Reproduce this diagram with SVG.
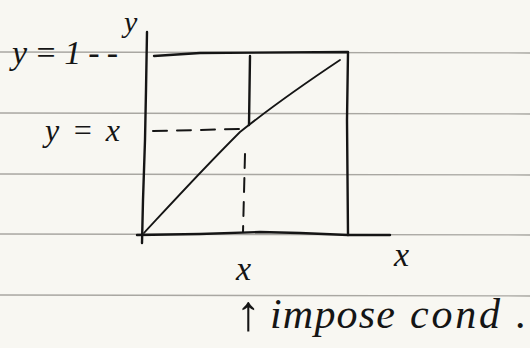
<svg xmlns="http://www.w3.org/2000/svg" width="530" height="348" viewBox="0 0 530 348">
<style>
.rule{stroke:#a9a7a2;stroke-width:1.3;fill:none}
.ink{stroke:#151515;stroke-width:2.4;fill:none;stroke-linecap:round;stroke-linejoin:round}
.thin{stroke:#151515;stroke-width:1.8;fill:none;stroke-linecap:round}
.dash{stroke:#151515;stroke-width:2;fill:none;stroke-dasharray:14 10;stroke-linecap:round}
.hand{font-family:"Liberation Serif",serif;font-style:italic;fill:#151515}
</style>
<rect width="530" height="348" fill="#f8f7f2"/>
<g id="ruling">
<line class="rule" x1="0" y1="52" x2="530" y2="53"/>
<line class="rule" x1="0" y1="113" x2="530" y2="114"/>
<line class="rule" x1="0" y1="174" x2="530" y2="175"/>
<line class="rule" x1="0" y1="234" x2="530" y2="235"/>
<line class="rule" x1="0" y1="295" x2="530" y2="296"/>
</g>
<g id="axes">
<path class="ink" d="M147 32 L146 90 L145 140 L143 200 L142 243"/>
<path class="ink" d="M137 235 L200 234 L260 232 L300 233 L348 235 L390 235"/>
</g>
<g id="square">
<path class="ink" d="M154 56 L200 53 L348 52 L347 120 L348 235"/>
<path class="ink" d="M250 56 L249 125"/>
</g>
<g id="connectors">
<path class="thin" d="M144 233 C170 205 200 172 240 132 C280 100 310 80 340 60"/>
<path class="dash" d="M153 131 L240 129"/>
<path class="dash" d="M245 154 L243 232"/>
</g>
<g id="labels">
<text class="hand" x="12" y="64" font-size="34" textLength="106" lengthAdjust="spacing">y = 1 - -</text>
<text class="hand" x="124" y="32" font-size="30">y</text>
<text class="hand" x="45" y="141" font-size="32" textLength="75" lengthAdjust="spacing">y = x</text>
<text class="hand" x="236" y="280" font-size="34">x</text>
<text class="hand" x="394" y="266" font-size="34">x</text>
<text class="hand" x="236" y="330" font-size="50" font-style="normal">↑</text>
<text class="hand" x="270" y="328" font-size="42" textLength="125" lengthAdjust="spacing">impose</text>
<text class="hand" x="410" y="328" font-size="42" textLength="90" lengthAdjust="spacing">cond</text>
<text class="hand" x="516" y="328" font-size="42">.</text>
</g>
</svg>
